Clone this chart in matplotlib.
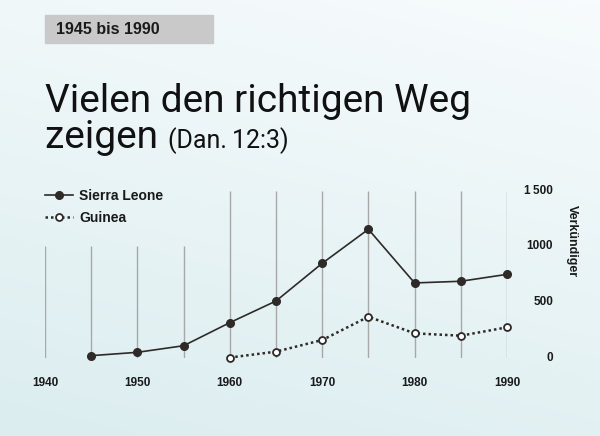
import numpy as np
import matplotlib
matplotlib.use('Agg')
import matplotlib.pyplot as plt
from matplotlib import font_manager
from matplotlib.patches import Rectangle
from matplotlib.transforms import blended_transform_factory

# --- data ---
years = [1945, 1950, 1955, 1960, 1965, 1970, 1975, 1980, 1985, 1990]
sierra_leone = [21, 51, 110, 317, 511, 849, 1154, 673, 688, 750]
guinea_years = [1960, 1965, 1970, 1975, 1980, 1985, 1990]
guinea = [4, 57, 161, 370, 221, 200, 275]

grid_years_short = [1940, 1945, 1950, 1955]
grid_years_tall = [1960, 1965, 1970, 1975, 1980, 1985, 1990]
x_tick_years = [1940, 1950, 1960, 1970, 1980, 1990]
y_ticks = [0, 500, 1000, 1500]
y_tick_labels = ['0', '500', '1000', '1\u2009500']

# --- fonts ---
names = {f.name for f in font_manager.fontManager.ttflist}
narrow = 'Liberation Sans Narrow' if 'Liberation Sans Narrow' in names else 'Roboto'
title_font = [narrow, 'DejaVu Sans']
bold_font = ['Liberation Sans', 'DejaVu Sans']

ink = '#2e2a28'
W, H = 600, 436
fig = plt.figure(figsize=(W / 100, H / 100), dpi=100)

# background gradient
bg = fig.add_axes([0, 0, 1, 1])
yy = np.linspace(0, 1, 200)[:, None]
xx = np.linspace(0, 1, 200)[None, :]
t = np.clip(0.75 * yy + 0.25 * (1 - xx), 0, 1)
top = np.array([0.97, 0.985, 0.99])
bot = np.array([0.86, 0.93, 0.94])
img = top[None, None, :] * (1 - t[..., None]) + bot[None, None, :] * t[..., None]
bg.imshow(img, aspect='auto', extent=[0, 1, 0, 1], origin='upper')
bg.set_axis_off()

# header box
fig.patches.append(Rectangle((45 / W, 1 - 43 / H), 168 / W, 28 / H,
                             transform=fig.transFigure, color='#c9c9c9'))
fig.text(56 / W, 1 - 29.5 / H, '1945 bis 1990', fontsize=11.5, fontweight='bold',
         family=bold_font, color='#1a1a1a', va='center', ha='left')

# title
fig.text(45 / W, 1 - 111.5 / H, 'Vielen den richtigen Weg', fontsize=28,
         family=title_font, color='#111111', va='baseline', ha='left')
t2 = fig.text(45 / W, 1 - 148 / H, 'zeigen ', fontsize=28,
              family=title_font, color='#111111', va='baseline', ha='left')
fig.canvas.draw()
bb = t2.get_window_extent()
fig.text(bb.x1 / W, 1 - 148 / H, '(Dan.\u200912:3)', fontsize=18,
         family=title_font, color='#111111', va='baseline', ha='left')

# chart axes: 1940 -> 45 px, 1990 -> 507 px, 0 -> 358 px, 1500 -> 190.7 px
ax = fig.add_axes([45 / W, (H - 358) / H, 462 / W, 167.3 / H])
ax.set_xlim(1940, 1990)
ax.set_ylim(0, 1500)
ax.patch.set_alpha(0)
for s in ax.spines.values():
    s.set_visible(False)

ax.vlines(grid_years_short, 0, 1000, color='#a8a8a8', lw=1, zorder=1)
ax.vlines(grid_years_tall, 0, 1500, color='#a8a8a8', lw=1, zorder=1)

ax.plot(years, sierra_leone, color=ink, lw=1.2, marker='o', ms=5.5,
        mfc=ink, mec=ink, label='Sierra Leone', clip_on=False, zorder=3)
ax.plot(guinea_years, guinea, color=ink, lw=1.8, ls=(0, (1, 1.2)), marker='o',
        ms=5, mfc='white', mec=ink, mew=1.3, label='Guinea', clip_on=False, zorder=3)

ax.set_xticks(x_tick_years)
ax.set_xticklabels([str(y) for y in x_tick_years], fontsize=8.5,
                   fontweight='bold', family=bold_font, color='#1a1a1a')
ax.tick_params(axis='x', length=0, pad=14)
ax.set_yticks([])

tr = blended_transform_factory(ax.transAxes, ax.transData)
for v, lab in zip(y_ticks, y_tick_labels):
    ax.text(1 + 46 / 462, v, lab, transform=tr, ha='right', va='center',
            fontsize=8.5, fontweight='bold', family=bold_font, color='#1a1a1a')

fig.text(572 / W, 1 - 241 / H, 'Verkündiger', rotation=270, fontsize=9,
         fontweight='bold', family=bold_font, color='#1a1a1a',
         ha='center', va='center')

leg = ax.legend(loc='upper left', bbox_to_anchor=(45 / W, 1 - 189 / H),
                bbox_transform=fig.transFigure, frameon=False,
                handlelength=2.0, handletextpad=0.45, labelspacing=0.6,
                borderpad=0, borderaxespad=0,
                prop={'family': bold_font, 'weight': 'bold', 'size': 10})
for txt in leg.get_texts():
    txt.set_color('#1a1a1a')

fig.savefig('out.png', dpi=100)
